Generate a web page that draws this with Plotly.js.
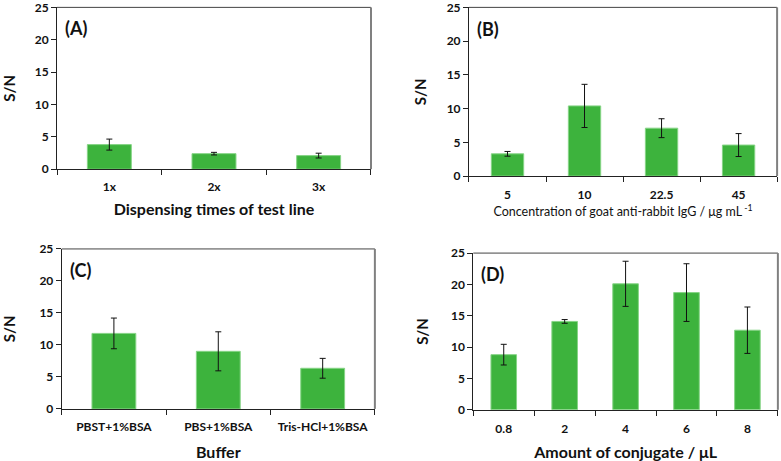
<!DOCTYPE html>
<html>
<head>
<meta charset="utf-8">
<script src="https://cdn.plot.ly/plotly-3.0.1.min.js"></script>
<style>html,body{margin:0;padding:0;background:#fff}#chart{width:781px;height:461px}</style>
</head>
<body>
<div id="chart"></div>
<script>
// Panel A
const catsA = ['1x', '2x', '3x'];
const valsA = [3.8, 2.4, 2.1];
const errA = [0.85, 0.2, 0.37];
// Panel B
const catsB = ['5', '10', '22.5', '45'];
const valsB = [3.3, 10.4, 7.1, 4.6];
const errB = [0.35, 3.2, 1.4, 1.7];
// Panel C
const catsC = ['PBST+1%BSA', 'PBS+1%BSA', 'Tris-HCl+1%BSA'];
const valsC = [11.8, 9.0, 6.35];
const errC = [2.4, 3.05, 1.55];
// Panel D
const catsD = ['0.8', '2', '4', '6', '8'];
const valsD = [8.8, 14.1, 20.1, 18.7, 12.7];
const errD = [1.65, 0.3, 3.6, 4.6, 3.7];

const yTicks = [0, 5, 10, 15, 20, 25];
const panelLabels = ['(A)', '(B)', '(C)', '(D)'];
const xTitles = ['Dispensing times of test line',
  'Concentration of goat anti-rabbit IgG / μg mL<sup> -1</sup>',
  'Buffer', 'Amount of conjugate / μL'];

const FONT = 'Lato, "Open Sans", sans-serif';
const barColor = '#3db33d';
const barLine = '#86d486';

function barTrace(cats, vals, errs, xa, ya) {
  return {
    type: 'bar', x: cats, y: vals, xaxis: xa, yaxis: ya,
    width: 0.42,
    marker: {color: barColor, line: {color: barLine, width: 1}},
    error_y: {type: 'data', array: errs, visible: true, color: '#111', thickness: 1, width: 3},
    showlegend: false, hoverinfo: 'x+y'
  };
}

const data = [
  barTrace(catsA, valsA, errA, 'x', 'y'),
  barTrace(catsB, valsB, errB, 'x2', 'y2'),
  barTrace(catsC, valsC, errC, 'x3', 'y3'),
  barTrace(catsD, valsD, errD, 'x4', 'y4')
];

const tickFont = {family: FONT, size: 12, color: '#111', weight: 'bold'};
function xax(domain, anchor, title, standoff, tsize, bold, lblStand) {
  return {
    domain: domain, anchor: anchor, type: 'category',
    showline: true, linecolor: '#222', linewidth: 1,
    ticks: 'outside', tickson: 'boundaries', ticklen: 5, tickcolor: '#222',
    ticklabelstandoff: lblStand, ticklabeloverflow: 'allow',
    tickfont: tickFont, showgrid: false, zeroline: false, fixedrange: true,
    title: {text: title, standoff: standoff, font: {family: FONT, size: tsize, color: '#111', weight: bold ? 'bold' : 'normal'}}
  };
}
function yax(domain, anchor, standoff) {
  return {
    domain: domain, anchor: anchor, range: [0, 25], tickvals: yTicks,
    showline: true, linecolor: '#222', linewidth: 1,
    ticks: 'outside', ticklen: 5, tickcolor: '#222',
    ticklabeloverflow: 'allow',
    tickfont: tickFont, showgrid: false, zeroline: false, fixedrange: true,
    title: {text: 'S/N', standoff: standoff, font: {family: FONT, size: 15, color: '#111', weight: 'bold'}}
  };
}

const layout = {
  width: 781, height: 461,
  margin: {l: 0, r: 0, t: 0, b: 0},
  paper_bgcolor: '#fff', plot_bgcolor: '#fff',
  font: {family: FONT, color: '#111'},
  bargap: 0.58,
  xaxis: xax([0.073, 0.475], 'y', xTitles[0], 11, 16, true, 6),
  yaxis: yax([0.633, 0.984], 'x', 22),
  xaxis2: xax([0.6005, 0.995], 'y2', xTitles[1], 4, 12.5, false, 7),
  yaxis2: yax([0.618, 0.984], 'x2', 16),
  xaxis3: xax([0.079, 0.480], 'y3', xTitles[2], 25, 16, true, 7),
  yaxis3: yax([0.113, 0.460], 'x3', 20),
  xaxis4: xax([0.606, 0.996], 'y4', xTitles[3], 15, 16, true, 8),
  yaxis4: yax([0.111, 0.451], 'x4', 18),
  shapes: [],
  annotations: []
};

const axPairs = [['x', 'y'], ['x2', 'y2'], ['x3', 'y3'], ['x4', 'y4']];
axPairs.forEach(function (p, i) {
  layout.shapes.push({type: 'line', xref: p[0] + ' domain', yref: p[1] + ' domain',
    x0: 0, x1: 1, y0: 1, y1: 1, line: {color: '#444', width: 1}});
  layout.shapes.push({type: 'line', xref: p[0] + ' domain', yref: p[1] + ' domain',
    x0: 1, x1: 1, y0: 0, y1: 1, line: {color: '#808080', width: 2}});
  layout.annotations.push({text: panelLabels[i], xref: p[0] + ' domain', yref: p[1] + ' domain',
    x: 0.02, y: 0.95, xanchor: 'left', yanchor: 'top', showarrow: false,
    font: {family: FONT, size: 18, color: '#111', weight: 'bold'}});
});

Plotly.newPlot('chart', data, layout, {displayModeBar: false, staticPlot: true});
</script>
</body>
</html>
